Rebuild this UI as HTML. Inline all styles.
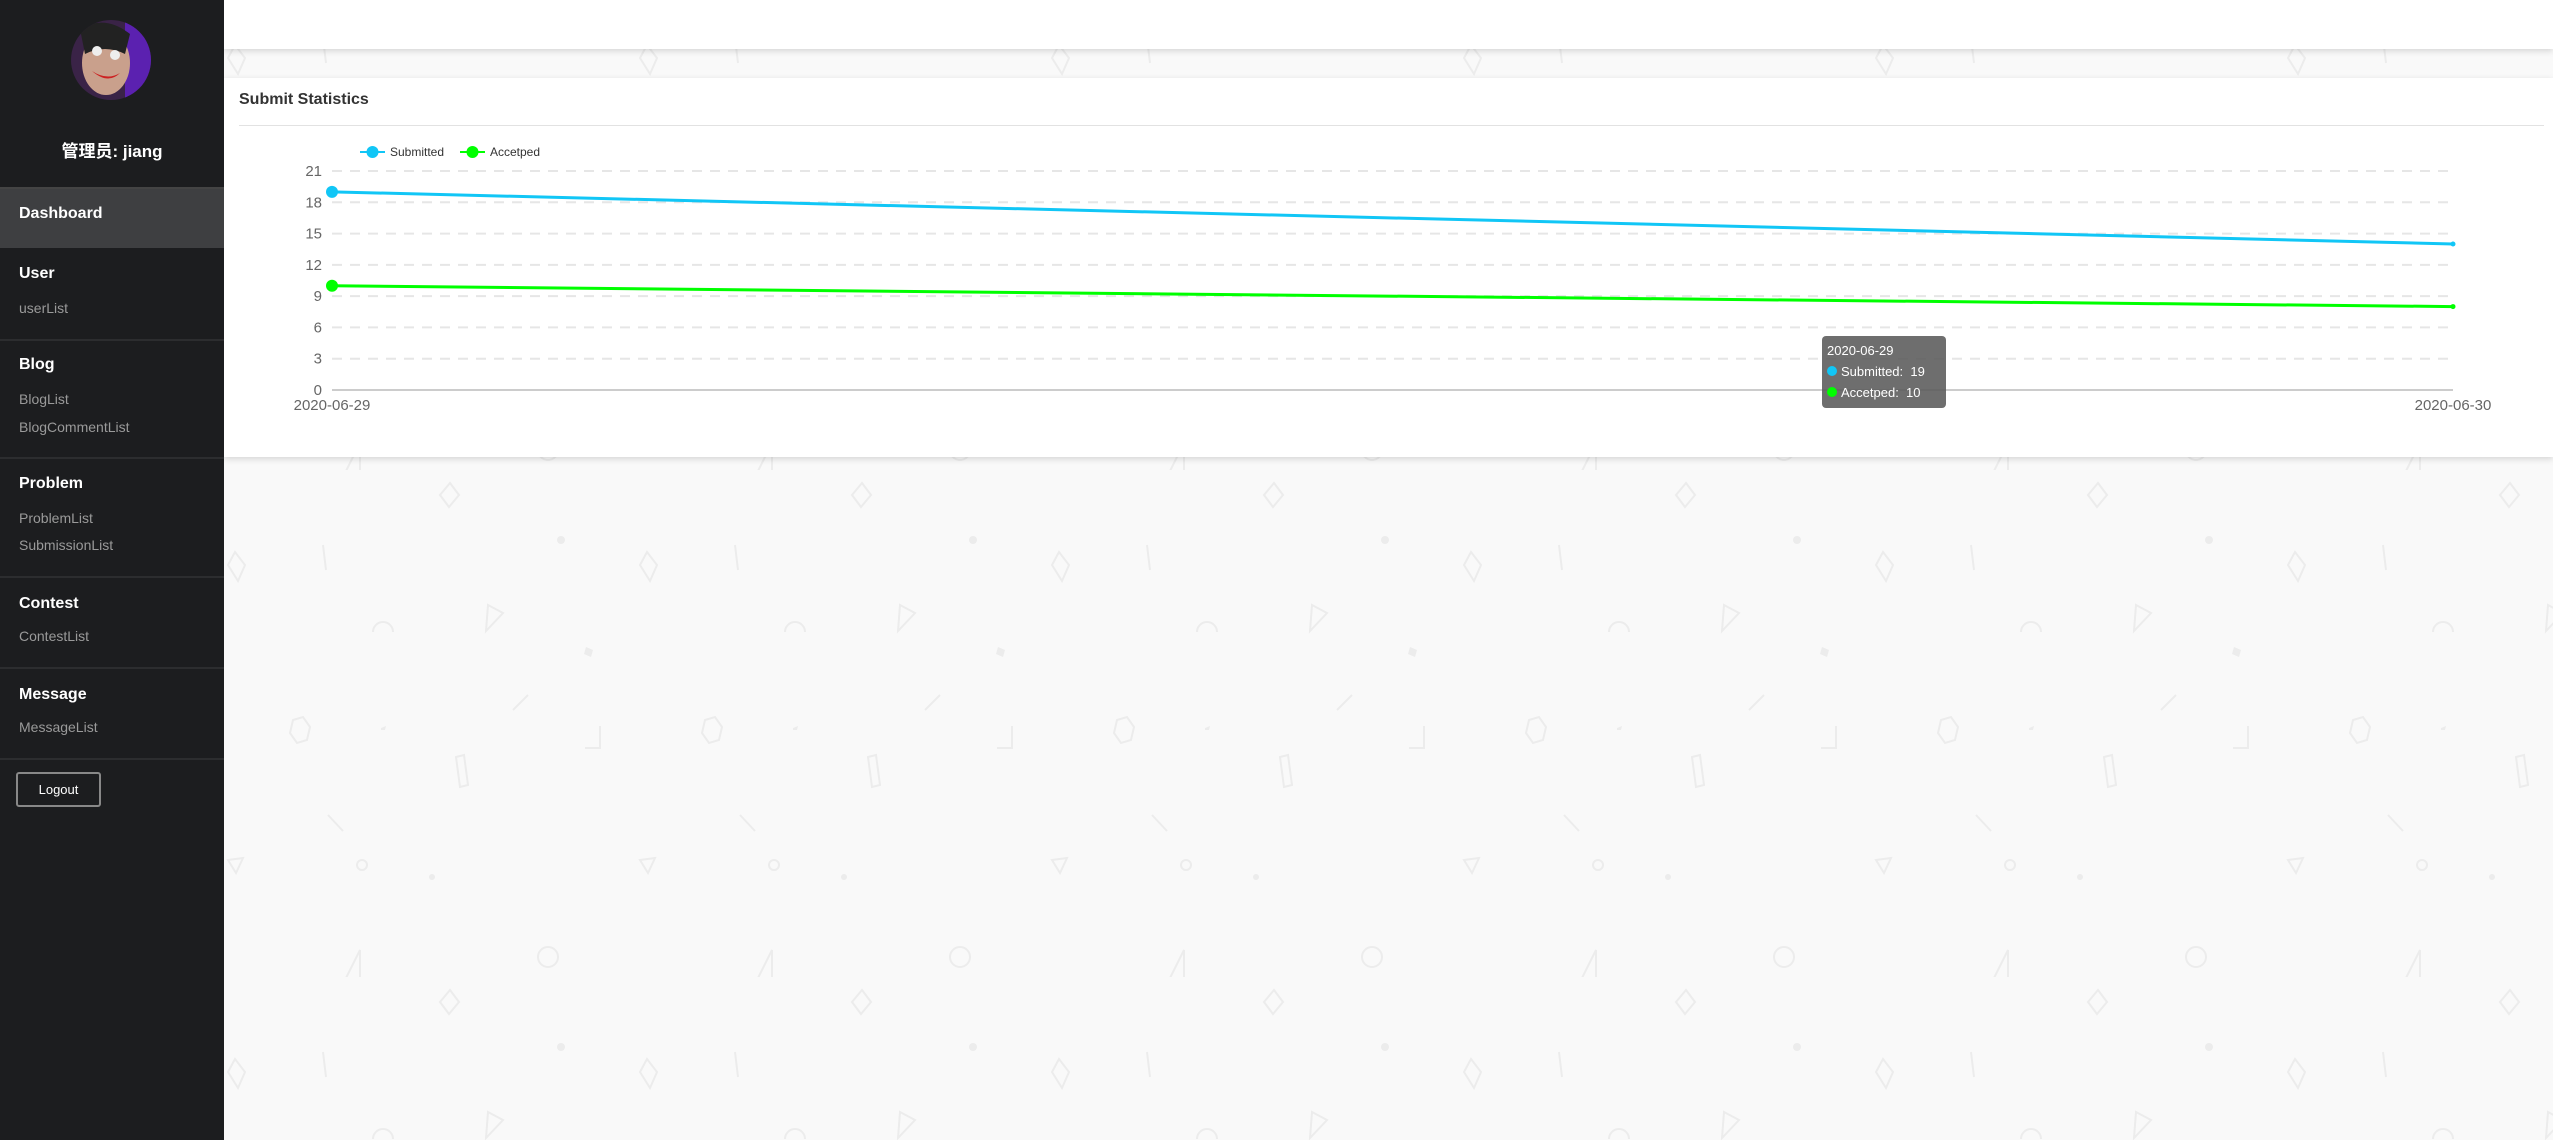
<!DOCTYPE html>
<html><head><meta charset="utf-8">
<style>
*{margin:0;padding:0;box-sizing:border-box}
body{width:2553px;height:1140px;overflow:hidden;background:#f9f9f9;font-family:"Liberation Sans","Noto Sans CJK SC",sans-serif;position:relative}
#bg{position:absolute;left:223px;top:0;width:2330px;height:1140px}
.sb{position:absolute;left:0;top:0;width:224px;height:1140px;background:#1c1d1f;color:#fff}
.sb .h{position:absolute;left:19px;font-size:16px;font-weight:bold;color:#fff}
.sb .i{position:absolute;left:19px;font-size:14px;color:#9a9a9a}
.sb .d{position:absolute;left:0;width:224px;height:2px;background:#2c2d2f}
.card{position:absolute;background:#fff;box-shadow:0 2px 6px rgba(0,0,0,0.15)}
</style></head><body>
<svg id="bg" xmlns="http://www.w3.org/2000/svg">
<defs><pattern id="p" x="0" y="470" width="412" height="507" patternUnits="userSpaceOnUse">
<g fill="none" stroke="#ececec" stroke-width="2">
<path d="M217 25 l10 -12 l9 12 l-10 12z"/>
<path d="M5 95 l7 -13 l10 13 l-7 16z"/>
<path d="M100 75 l3 25"/>
<path d="M150 162 a10 10 0 1 1 20 0"/>
<path d="M265 135 l15 8 l-17 18z"/>
<path d="M70 250 l10 -3 l7 10 l-3 13 l-10 3 l-7 -10z"/>
<path d="M290 240 l15 -15"/>
<path d="M362 278 h15 v-22"/>
<path d="M233 287 l8 -2 l4 30 l-8 2z"/>
<path d="M105 345 l15 16"/>
<path d="M5 390 l15 -2 l-7 15z"/>
<circle cx="139" cy="395" r="5"/>
<circle cx="325" cy="487" r="10"/>
<path d="M122 510 l15 -30 v30z"/>
<path d="M410 520 l15 12"/>
</g>
<g fill="#ececec"><circle cx="338" cy="70" r="4"/><circle cx="209" cy="407" r="3"/><path d="M363 177 l7 3 l-2 7 l-7 -3z"/><path d="M158 258 l5 -2 l-3 12 l2 -8 l-4 0z"/></g>
</pattern></defs>
<rect width="2330" height="1140" fill="url(#p)"/>
</svg>

<div class="card" style="left:224px;top:0;width:2329px;height:49px"></div>
<div class="card" style="left:224px;top:78px;width:2329px;height:379px">
  <div style="position:absolute;left:15px;top:13px;font-size:16px;font-weight:bold;color:#333">Submit Statistics</div>
  <div style="position:absolute;left:15px;top:47px;width:2305px;height:1px;background:#e2e2e2"></div>
</div>

<svg id="chart" style="position:absolute;left:0;top:0" width="2553" height="460" xmlns="http://www.w3.org/2000/svg"></svg>

<div style="position:absolute;left:1822px;top:336px;width:124px;height:72px;background:rgba(90,90,90,0.88);border-radius:4px;color:#fff;font-size:13px;line-height:21px;padding:4px 5px">
  <div>2020-06-29</div>
  <div><span style="display:inline-block;width:10px;height:10px;border-radius:5px;background:#11c6f6;margin-right:4px"></span>Submitted:&nbsp; 19</div>
  <div><span style="display:inline-block;width:10px;height:10px;border-radius:5px;background:#00ff00;margin-right:4px"></span>Accetped:&nbsp; 10</div>
</div>

<div class="sb">
  <svg style="position:absolute;left:70px;top:19px" width="82" height="82">
    <defs><clipPath id="c"><circle cx="41" cy="41" r="40"/></clipPath></defs>
    <g clip-path="url(#c)"><rect width="82" height="82" fill="#3a2347"/><rect x="55" width="27" height="82" fill="#5b21b0"/>
    <ellipse cx="36" cy="44" rx="24" ry="32" fill="#c9a08c"/><path d="M10 10 q25 -15 50 5 l-5 20 q-20 -10 -40 0z" fill="#222"/>
    <circle cx="27" cy="32" r="5" fill="#eee"/><circle cx="45" cy="36" r="5" fill="#eee"/><path d="M22 52 q15 10 28 2 q-12 12 -28 -2z" fill="#c22"/></g>
  </svg>
  <div style="position:absolute;left:0;width:224px;top:137px;text-align:center;font-size:17px;font-weight:bold">管理员: jiang</div>
  <div style="position:absolute;left:0;top:187px;width:224px;height:61px;background:#3e3f41;border-top:2px solid #444"><span style="position:absolute;left:19px;top:16px;font-size:16px;font-weight:bold">Dashboard</span></div>
  <div class="h" style="top:265px">User</div>
  <div class="i" style="top:300px">userList</div>
  <div class="d" style="top:339px"></div>
  <div class="h" style="top:356px">Blog</div>
  <div class="i" style="top:391px">BlogList</div>
  <div class="i" style="top:419px">BlogCommentList</div>
  <div class="d" style="top:457px"></div>
  <div class="h" style="top:475px">Problem</div>
  <div class="i" style="top:510px">ProblemList</div>
  <div class="i" style="top:537px">SubmissionList</div>
  <div class="d" style="top:576px"></div>
  <div class="h" style="top:595px">Contest</div>
  <div class="i" style="top:628px">ContestList</div>
  <div class="d" style="top:667px"></div>
  <div class="h" style="top:686px">Message</div>
  <div class="i" style="top:719px">MessageList</div>
  <div class="d" style="top:758px"></div>
  <div style="position:absolute;left:16px;top:772px;width:85px;height:35px;border:2px solid #888;border-radius:3px;text-align:center;line-height:31px;font-size:13px;color:#fff">Logout</div>
</div>

<script>
const categories = ["2020-06-29", "2020-06-30"];
const submitted = [19, 14];
const accepted = [10, 8];
const yTicks = [0, 3, 6, 9, 12, 15, 18, 21];
const seriesNames = ["Submitted", "Accetped"];
const seriesColors = ["#11c6f6", "#00ff00"];

const NS = "http://www.w3.org/2000/svg";
const svg = document.getElementById("chart");
const X0 = 332, X1 = 2453, Y0 = 390, Y1 = 171, YMAX = 21;
function xs(i){ return X0 + (X1 - X0) * i / (categories.length - 1); }
function ys(v){ return Y0 - (Y0 - Y1) * v / YMAX; }
function mk(tag, attrs){ const e = document.createElementNS(NS, tag); for (const k in attrs) e.setAttribute(k, attrs[k]); svg.appendChild(e); return e; }

yTicks.forEach(function(t){
  const y = ys(t);
  const g = mk("line", {x1: X0, x2: X1, y1: y, y2: y, stroke: t === 0 ? "#ccc" : "#e6e6e6", "stroke-width": 2, "stroke-dasharray": t === 0 ? "" : "10,8"});
  
  
  const l = mk("text", {x: X0 - 10, y: y + 5, "text-anchor": "end", "font-size": 15, fill: "#666", "font-family": "Liberation Sans, sans-serif"});
  l.textContent = t;
  
  
});
categories.forEach(function(c, i){
  const l = mk("text", {x: xs(i), y: 410, "text-anchor": "middle", "font-size": 15, fill: "#666", "font-family": "Liberation Sans, sans-serif"});
  l.textContent = c;
  
  
});

[submitted, accepted].forEach(function(data, s){
  const pts = data.map(function(v, i){ return xs(i) + "," + ys(v); }).join(" ");
  const pl = mk("polyline", {points: pts, fill: "none", stroke: seriesColors[s], "stroke-width": 3});
  
  
  data.forEach(function(v, i){
    const c = mk("circle", {cx: xs(i), cy: ys(v), r: i === 0 ? 6 : 2.5, fill: seriesColors[s]});
    
    
  });
  const lx = 360 + s * 100;
  const ll = mk("line", {x1: lx, x2: lx + 25, y1: 152, y2: 152, stroke: seriesColors[s], "stroke-width": 2});
  
  
  const lc = mk("circle", {cx: lx + 12.5, cy: 152, r: 6, fill: seriesColors[s]});
  
  
  const lt = mk("text", {x: lx + 30, y: 156, "font-size": 12, fill: "#333", "font-family": "Liberation Sans, sans-serif"});
  lt.textContent = seriesNames[s];
  
  
});
</script>
</body></html>
